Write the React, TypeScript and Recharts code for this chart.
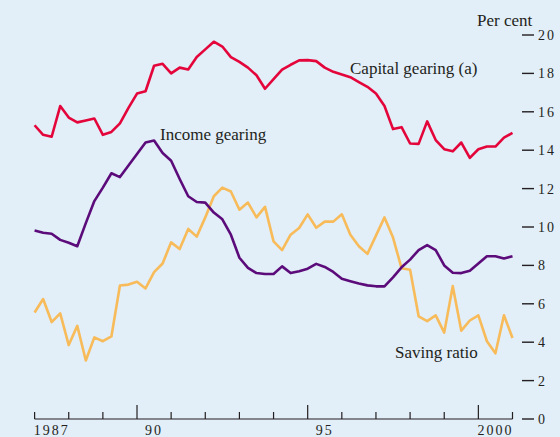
import { LineChart, Line, XAxis, YAxis } from "recharts";

// quarterly observations, 1987 to 2001
const QUARTERS = Array.from({ length: 57 }, (_, i) => 1987 + i / 4);

const CAPITAL_GEARING = [
  15.3, 14.8, 14.7, 16.3, 15.7, 15.45, 15.55, 15.65, 14.8, 14.95, 15.4, 16.2,
  16.95, 17.07, 18.4, 18.5, 18.0, 18.3, 18.2, 18.85, 19.25, 19.65, 19.4, 18.85,
  18.6, 18.3, 17.9, 17.2, 17.7, 18.2, 18.45, 18.68, 18.69, 18.64, 18.3, 18.08,
  17.94, 17.8, 17.55, 17.3, 16.95, 16.3, 15.1, 15.2, 14.35, 14.33, 15.5, 14.53,
  14.05, 13.94, 14.4, 13.6, 14.05, 14.19, 14.19, 14.65, 14.9,
];

const INCOME_GEARING = [
  9.82, 9.7, 9.65, 9.33, 9.18, 9.0, 10.2, 11.35, 12.05, 12.8, 12.6, 13.2,
  13.8, 14.4, 14.5, 13.85, 13.45, 12.5, 11.6, 11.3, 11.27, 10.75, 10.4, 9.6,
  8.4, 7.87, 7.6, 7.55, 7.55, 7.95, 7.6, 7.7, 7.83, 8.08, 7.92, 7.66,
  7.3, 7.18, 7.06, 6.96, 6.91, 6.91, 7.38, 7.9, 8.3, 8.8, 9.06, 8.8,
  8.0, 7.62, 7.6, 7.72, 8.1, 8.48, 8.48, 8.36, 8.48,
];

const SAVING_RATIO = [
  5.55, 6.25, 5.05, 5.5, 3.85, 4.85, 3.05, 4.25, 4.05, 4.3, 6.95, 7.0,
  7.15, 6.8, 7.65, 8.1, 9.2, 8.85, 9.9, 9.5, 10.5, 11.6, 12.05, 11.85,
  10.9, 11.27, 10.5, 11.05, 9.25, 8.8, 9.6, 9.95, 10.66, 9.96, 10.28, 10.28,
  10.66, 9.6, 9.0, 8.6, 9.55, 10.5, 9.45, 7.85, 7.77, 5.35, 5.1, 5.4,
  4.5, 6.92, 4.6, 5.13, 5.4, 4.05, 3.42, 5.4, 4.22,
];

const Y_TICKS = [0, 2, 4, 6, 8, 10, 12, 14, 16, 18, 20];
const YEAR_BOUNDS = [1987, 1988, 1989, 1990, 1991, 1992, 1993, 1994, 1995, 1996, 1997, 1998, 1999, 2000, 2001];
const MAJOR_YEARS = [1990, 1995, 2000];
const LABEL_POS = [1987.5, 1990.5, 1995.5, 2000.5];
const YEAR_LABELS = ["1987", "90", "95", "2000"];

const data = QUARTERS.map((q, i) => ({
  q,
  capital: CAPITAL_GEARING[i],
  income: INCOME_GEARING[i],
  saving: SAVING_RATIO[i],
}));

const INK = "#231f20";
const FONT = "'Liberation Serif', 'Times New Roman', serif";

function XTick({ x, y, payload }: any) {
  const v = payload.value;
  if (Number.isInteger(v)) {
    const h = MAJOR_YEARS.includes(v) ? 14 : 7;
    return <line x1={x} x2={x} y1={y} y2={y - h} stroke={INK} strokeWidth={1.2} />;
  }
  const idx = LABEL_POS.indexOf(v);
  if (idx < 0) return <g />;
  return (
    <text x={x} y={y + 16} textAnchor="middle" fontFamily={FONT} fontSize={14} letterSpacing={2} fill={INK}>
      {YEAR_LABELS[idx]}
    </text>
  );
}

function LeftTick({ y }: any) {
  return <line x1={13} x2={24} y1={y} y2={y} stroke={INK} strokeWidth={1.4} />;
}

function RightTick({ y, payload }: any) {
  return (
    <g>
      <line x1={522} x2={534} y1={y} y2={y} stroke={INK} strokeWidth={1.4} />
      <text x={538} y={y} dy="0.35em" fontFamily={FONT} fontSize={14} letterSpacing={2} fill={INK}>
        {payload.value}
      </text>
    </g>
  );
}

const labelStyle = {
  position: "absolute" as const,
  fontFamily: FONT,
  fontSize: 17,
  color: INK,
  lineHeight: "17px",
  whiteSpace: "nowrap" as const,
};

export default function App() {
  return (
    <div
      style={{
        position: "absolute",
        left: 0,
        top: 0,
        width: 560,
        height: 437,
        overflow: "hidden",
        background: "#e2eef8",
      }}
    >
      <LineChart width={560} height={445} data={data} margin={{ top: 35, right: 0, bottom: 0, left: 0 }}>
        <XAxis
          dataKey="q"
          type="number"
          domain={[1987, 2001]}
          ticks={[...YEAR_BOUNDS, ...LABEL_POS].sort((a, b) => a - b)}
          interval={0}
          height={26}
          tickSize={0}
          tickMargin={0}
          tickLine={false}
          axisLine={{ stroke: INK, strokeWidth: 1.2 }}
          tick={<XTick />}
        />
        <YAxis
          yAxisId="left"
          orientation="left"
          width={34.6}
          domain={[0, 20]}
          ticks={Y_TICKS}
          interval={0}
          axisLine={false}
          tickLine={false}
          tickSize={0}
          tickMargin={0}
          tick={<LeftTick />}
        />
        <YAxis
          yAxisId="right"
          orientation="right"
          width={47.5}
          domain={[0, 20]}
          ticks={Y_TICKS}
          interval={0}
          axisLine={false}
          tickLine={false}
          tickSize={0}
          tickMargin={0}
          tick={<RightTick />}
        />
        <Line
          yAxisId="right"
          dataKey="saving"
          type="linear"
          stroke="#f8bb5a"
          strokeWidth={2.6}
          dot={false}
          strokeLinejoin="round"
          isAnimationActive={false}
        />
        <Line
          yAxisId="right"
          dataKey="income"
          type="linear"
          stroke="#5c0b7a"
          strokeWidth={2.6}
          dot={false}
          strokeLinejoin="round"
          isAnimationActive={false}
        />
        <Line
          yAxisId="right"
          dataKey="capital"
          type="linear"
          stroke="#e4053b"
          strokeWidth={2.6}
          dot={false}
          strokeLinejoin="round"
          isAnimationActive={false}
        />
      </LineChart>
      <span style={{ ...labelStyle, left: 477, top: 12 }}>Per cent</span>
      <span style={{ ...labelStyle, left: 350, top: 60 }}>Capital gearing (a)</span>
      <span style={{ ...labelStyle, left: 160, top: 126 }}>Income gearing</span>
      <span style={{ ...labelStyle, left: 395, top: 344 }}>Saving ratio</span>
    </div>
  );
}
